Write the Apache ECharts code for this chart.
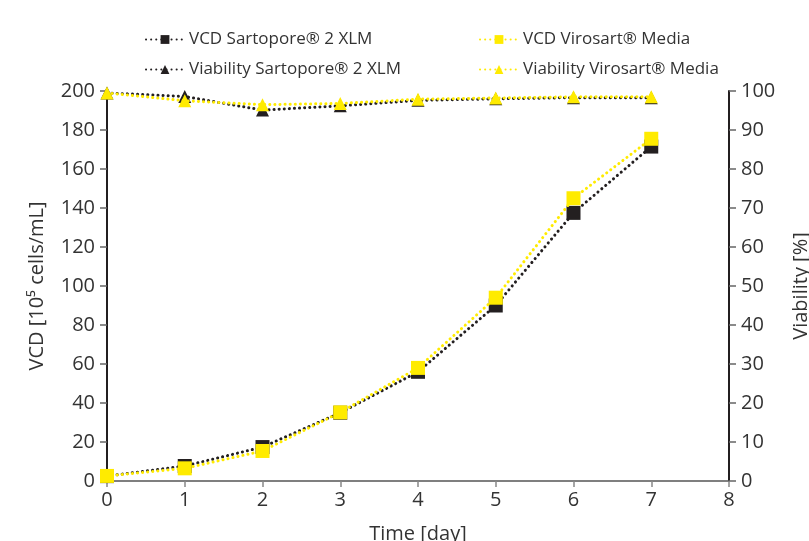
<!DOCTYPE html>
<html><head><meta charset="utf-8">
<script src="https://cdn.jsdelivr.net/npm/echarts@6/dist/echarts.min.js"></script>
<style>html,body{margin:0;padding:0;background:#fff}#c{width:809px;height:541px}</style>
</head><body><div id="c"></div>
<script>
const days = [0,1,2,3,4,5,6,7];
const vcdSartopore = [2.5, 7.7, 17.4, 35, 56, 90, 137.5, 171.5];
const vcdVirosart = [2.6, 6.5, 15.4, 35.2, 58, 94, 145, 175.5];
const viaSartopore = [99.5, 98.6, 95.1, 96.2, 97.6, 98.0, 98.3, 98.3];
const viaVirosart = [99.5, 97.5, 96.5, 96.8, 97.9, 98.2, 98.5, 98.5];
const xTicks = ['0','1','2','3','4','5','6','7','8'];

const BLACK = '#231f20', YEL = '#ffeb00', TXT = '#333333';
const FONT = 'Open Sans';
const pair = arr => days.map((d,i)=>[d, arr[i]]);

function ser(name, data, color, symbol, size, yIdx, z){
  return {name, type:'line', data: pair(data), yAxisIndex:yIdx, z,
    symbol, symbolSize:size, itemStyle:{color},
    lineStyle:{color, width:3, type:[0.1,5], cap:'round'}};
}
function leg(name, left, top){
  return {data:[name], left, top, itemWidth:38, itemHeight:11, itemGap:10,
    textStyle:{fontFamily:FONT, fontSize:17, color:TXT}};
}
const chart = echarts.init(document.getElementById('c'), null, {renderer:'canvas'});
chart.setOption({
  animation:false,
  backgroundColor:'#fff',
  legend:[
    leg('VCD Sartopore® 2 XLM', 140, 26),
    leg('VCD Virosart® Media', 474, 26),
    leg('Viability Sartopore® 2 XLM', 140, 56),
    leg('Viability Virosart® Media', 474, 56)
  ],
  grid:{left:107, right:80, top:91, bottom:60, containLabel:false, outerBoundsMode:'none'},
  xAxis:{type:'value', min:0, max:8, interval:1,
    axisLine:{lineStyle:{color:'#555', width:1.5}},
    axisTick:{show:true, length:6, lineStyle:{color:'#888', width:1.5}},
    axisLabel:{fontFamily:FONT, fontSize:20, color:TXT, margin:9, formatter:v=>xTicks[v]},
    splitLine:{show:false},
    name:'Time [day]', nameLocation:'middle', nameGap:43,
    nameTextStyle:{fontFamily:FONT, fontSize:20, color:TXT}},
  yAxis:[
    {type:'value', min:0, max:200, interval:20,
     axisLine:{show:true, lineStyle:{color:BLACK, width:2}},
     axisTick:{show:true, length:7, lineStyle:{color:'#666', width:1.5}},
     axisLabel:{fontFamily:FONT, fontSize:20, color:TXT, margin:12},
     splitLine:{show:false},
     name:'VCD [10⁵ cells/mL]', nameLocation:'middle', nameGap:60, nameRotate:90,
     nameTextStyle:{fontFamily:FONT, fontSize:20, color:TXT}},
    {type:'value', min:0, max:100, interval:10, position:'right',
     axisLine:{show:true, lineStyle:{color:BLACK, width:2}},
     axisTick:{show:true, length:7, lineStyle:{color:'#666', width:1.5}},
     axisLabel:{fontFamily:FONT, fontSize:20, color:TXT, margin:12},
     splitLine:{show:false},
     name:'Viability [%]', nameLocation:'middle', nameGap:62, nameRotate:90,
     nameTextStyle:{fontFamily:FONT, fontSize:20, color:TXT}}
  ],
  series:[
    ser('VCD Sartopore® 2 XLM', vcdSartopore, BLACK, 'rect', 14, 0, 2),
    ser('VCD Virosart® Media', vcdVirosart, YEL, 'rect', 14, 0, 3),
    ser('Viability Sartopore® 2 XLM', viaSartopore, BLACK, 'triangle', 13, 1, 2),
    ser('Viability Virosart® Media', viaVirosart, YEL, 'triangle', 13, 1, 3)
  ]
});
</script></body></html>
